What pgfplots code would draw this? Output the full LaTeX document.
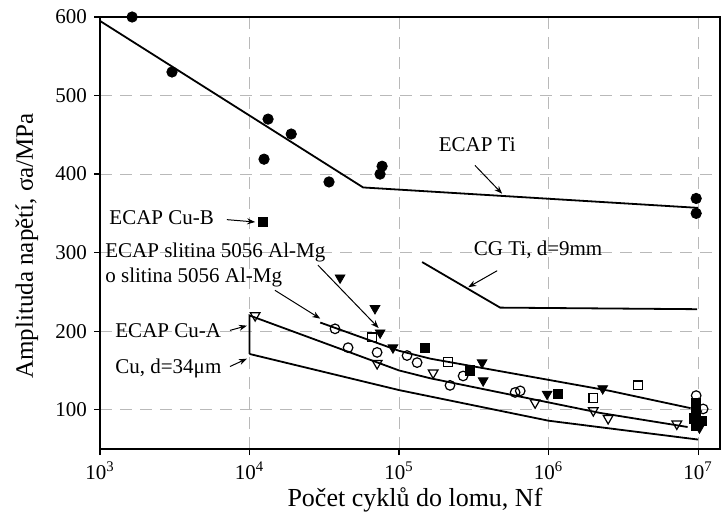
\documentclass[border=0pt]{standalone}
\usepackage{fontspec}
\setmainfont{Liberation Serif}
\usepackage{pgfplots}
\pgfplotsset{compat=1.18}
\usetikzlibrary{arrows.meta}
\begin{document}
\begin{tikzpicture}
\useasboundingbox (-50pt,-34.5pt) rectangle (313pt,224.5pt);
\begin{axis}[
 at={(0,0)}, anchor=south west,
 scale only axis, width=310pt, height=216pt,
 xmode=log, log basis x=10,
 xmin=1000, xmax=1.4e7, ymin=50, ymax=600,
 xtick={1e3,1e4,1e5,1e6,1e7},
 xticklabels={10\textsuperscript{3},10\textsuperscript{4},10\textsuperscript{5},10\textsuperscript{6},10\textsuperscript{7}},
 ytick={100,200,300,400,500,600},
 /pgf/number format/assume math mode=true,
 tick label style={font=\fontsize{10.5}{12}\selectfont, black},
 grid=major,
 major grid style={gray!55, line width=0.5pt, dash pattern=on 6pt off 4pt},
 axis line style={line width=1pt, black},
 tick style={black, line width=0.6pt},
 tick align=outside, xtick pos=bottom, ytick pos=left,
 major tick length=3pt, minor tick length=2pt,
 clip=false,
 xlabel={Počet cyklů do lomu, Nf},
 ylabel={Amplituda napětí, σa/MPa},
 xlabel style={font=\fontsize{13}{15}\selectfont, at={(axis description cs:0.508,-0.118)}, anchor=center},
 ylabel style={font=\fontsize{12.5}{15}\selectfont, at={(axis description cs:-0.118,0.47)}, anchor=center},
 every axis plot/.append style={black},
]
% lines
\addplot[line width=0.9pt, mark=none] coordinates {(1000,595) (57500,383) (1e7,357)};
\addplot[line width=0.9pt, mark=none] coordinates {(142600,288) (474000,230) (9.85e6,228)};
\addplot[line width=0.9pt, mark=none] coordinates {(29700,211) (1e5,175) (162000,165) (2.57e6,124) (8.9e6,102)};
\addplot[line width=0.9pt, mark=none] coordinates {(10000,171) (10000,220) (1e5,150) (162000,140) (2.2e6,96) (8.5e6,78)};
\addplot[line width=0.9pt, mark=none] coordinates {(10000,171) (1e5,125) (1e6,86) (1e7,62)};
% ECAP Ti
\addplot[only marks, mark=*, mark size=2.6pt] coordinates {(1640,600) (3030,530) (13300,470) (19000,451) (12500,419) (34000,390) (77000,410) (74600,400) (9.7e6,369) (9.7e6,350)};
% ECAP Al-Mg filled triangles
\addplot[only marks, mark=triangle*, mark size=2.8pt, mark options={rotate=180}] coordinates {(40300,268) (69000,229) (74700,198) (91000,179) (359000,160) (365000,137) (977000,120) (2.3e6,127) (1.02e7,77) (9.8e6,95)};
% filled squares
\addplot[only marks, mark=square*, mark size=2.3pt] coordinates {(12300,339) (149000,179) (298000,150) (1.16e6,120) (9.7e6,109) (9.7e6,99) (9.4e6,89) (1.05e7,86) (9.6e6,80)};
% open circles
\addplot[only marks, mark=o, mark size=2.4pt, mark options={line width=0.6pt}] coordinates {(37300,203) (45600,179) (71300,173) (113000,169) (132000,160) (219000,131) (268000,143) (597000,122) (646000,124) (9.7e6,118) (1.08e7,101)};
% open squares
\addplot[only marks, mark=square, mark size=2.2pt, mark options={line width=0.6pt}] coordinates {(66000,192) (213000,161) (1.99e6,115) (3.97e6,131)};
% open triangles
\addplot[only marks, mark=triangle, mark size=2.8pt, mark options={rotate=180, line width=0.6pt}] coordinates {(10900,220) (71300,159) (169000,147) (812000,109) (1.99e6,99) (2.5e6,89) (7.2e6,82)};
% labels
\begin{scope}[every node/.style={font=\fontsize{10.5}{12}\selectfont, inner sep=0pt}]
\node at (axis cs:333000,437) {ECAP Ti};
\node at (axis cs:851000,303) {CG Ti, d=9mm};
\node[anchor=west] at (axis cs:1150,344) {ECAP Cu-B};
\node[anchor=west] at (axis cs:1080,300) {ECAP slitina 5056 Al-Mg};
\node[anchor=west] at (axis cs:1080,268) {o slitina 5056 Al-Mg};
\node[anchor=west] at (axis cs:1260,201) {ECAP Cu-A};
\node[anchor=west] at (axis cs:1260,152) {Cu, d=34μm};
\end{scope}
\begin{scope}[-{Stealth[length=4pt,width=3pt]}, line width=0.5pt]
\draw (axis cs:322000,411) -- (axis cs:489000,375);
\draw (axis cs:453000,277) -- (axis cs:290000,256);
\draw (axis cs:7060,342) -- (axis cs:10900,339);
\draw (axis cs:28700,284) -- (axis cs:73000,204);
\draw (axis cs:14800,252) -- (axis cs:29700,216);
\draw (axis cs:7400,201) -- (axis cs:9600,207);
\draw (axis cs:7400,155) -- (axis cs:9600,165);
\end{scope}
\end{axis}
\end{tikzpicture}
\end{document}
